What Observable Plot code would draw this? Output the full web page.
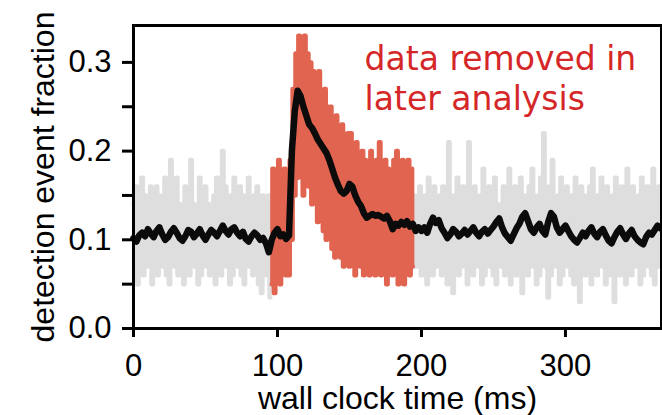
<!DOCTYPE html>
<html><head><meta charset="utf-8">
<script src="https://cdn.jsdelivr.net/npm/d3@7"></script>
<script src="https://cdn.jsdelivr.net/npm/@observablehq/plot@0.6"></script>
<style>body{margin:0;background:#fff}</style>
</head><body><div id="chart"></div>
<script>
const xTicks = [0, 100, 200, 300];
const yTicks = [0, 0.1, 0.2, 0.3];
const yMinorTicks = [0.05, 0.15, 0.25];
const xLabel = "wall clock time (ms)";
const yLabel = "detection event fraction";
const noteText = "data removed in\nlater analysis";
const noteX = 160.5;
const noteY = 0.3247;

// raw detection fraction, one sample per ms
const grayLeftStart = 0;
const grayLeft = [
0.14,0.07,0.16,0.05,0.13,0.08,0.17,0.06,0.15,0.07,
0.14,0.08,0.16,0.05,0.13,0.07,0.16,0.06,0.15,0.08,
0.14,0.07,0.17,0.06,0.13,0.05,0.19,0.08,0.15,0.07,
0.17,0.06,0.14,0.08,0.13,0.05,0.16,0.07,0.15,0.06,
0.19,0.08,0.14,0.07,0.13,0.05,0.17,0.06,0.15,0.08,
0.16,0.07,0.14,0.06,0.13,0.08,0.15,0.05,0.17,0.07,
0.14,0.06,0.20,0.08,0.16,0.07,0.13,0.05,0.15,0.06,
0.17,0.08,0.14,0.07,0.16,0.06,0.15,0.05,0.13,0.08,
0.17,0.07,0.14,0.06,0.15,0.08,0.16,0.05,0.13,0.04,
0.15,0.07,0.14,0.06,0.15,0.035];

const redStart = 96;
const red = [
0.05,0.18,0.04,0.17,0.06,0.19,0.05,0.16,0.07,0.18,
0.06,0.17,0.06,0.19,0.10,0.27,0.15,0.31,0.17,0.33,
0.18,0.32,0.15,0.33,0.17,0.31,0.16,0.30,0.14,0.29,
0.15,0.28,0.12,0.29,0.13,0.26,0.11,0.27,0.10,0.25,
0.11,0.25,0.09,0.23,0.08,0.24,0.09,0.22,0.08,0.23,
0.07,0.21,0.09,0.22,0.07,0.22,0.08,0.20,0.06,0.21,
0.08,0.19,0.07,0.20,0.06,0.19,0.08,0.18,0.06,0.20,
0.07,0.18,0.06,0.19,0.07,0.21,0.06,0.18,0.07,0.19,
0.05,0.18,0.07,0.17,0.06,0.19,0.07,0.20,0.05,0.18,
0.06,0.19,0.05,0.17,0.07,0.19,0.06,0.18,0.07];

const grayRightStart = 195;
const grayRight = [
0.15,0.07,0.14,0.08,0.16,0.06,0.13,0.07,0.15,0.05,
0.17,0.08,0.14,0.06,0.16,0.07,0.13,0.08,0.15,0.06,
0.16,0.07,0.14,0.05,0.21,0.08,0.15,0.04,0.13,0.07,
0.17,0.06,0.14,0.08,0.16,0.07,0.15,0.05,0.21,0.07,
0.14,0.06,0.16,0.08,0.13,0.07,0.15,0.05,0.18,0.06,
0.14,0.08,0.16,0.07,0.15,0.06,0.17,0.05,0.14,0.08,
0.13,0.07,0.16,0.06,0.15,0.08,0.18,0.05,0.14,0.07,
0.16,0.06,0.13,0.08,0.17,0.04,0.15,0.07,0.14,0.06,
0.16,0.08,0.18,0.07,0.15,0.05,0.14,0.06,0.17,0.08,
0.22,0.07,0.15,0.035,0.16,0.06,0.19,0.08,0.14,0.07,
0.15,0.05,0.17,0.06,0.13,0.08,0.16,0.07,0.14,0.06,
0.15,0.05,0.17,0.08,0.14,0.03,0.16,0.07,0.15,0.06,
0.13,0.08,0.16,0.05,0.18,0.07,0.14,0.06,0.15,0.08,
0.17,0.07,0.14,0.05,0.16,0.06,0.13,0.08,0.15,0.03,
0.17,0.07,0.14,0.06,0.16,0.08,0.15,0.05,0.18,0.07,
0.14,0.06,0.16,0.08,0.13,0.07,0.15,0.05,0.17,0.06,
0.14,0.08,0.16,0.07,0.15,0.06,0.18,0.05,0.14,0.07,
0.16,0.08,0.15];

// smoothed trace, one sample per 2 ms
const smoothStart = 0;
const smoothStep = 2;
const smooth = [
0.102,0.098,0.105,0.108,0.104,0.112,0.107,0.103,0.110,0.114,
0.106,0.100,0.103,0.109,0.113,0.108,0.102,0.099,0.104,0.111,
0.109,0.103,0.107,0.112,0.105,0.100,0.106,0.111,0.108,0.104,
0.110,0.116,0.110,0.106,0.112,0.114,0.108,0.104,0.109,0.101,
0.098,0.104,0.108,0.105,0.100,0.102,0.096,0.086,0.100,0.108,
0.112,0.104,0.106,0.101,0.105,0.200,0.245,0.268,0.262,0.250,
0.240,0.230,0.226,0.220,0.213,0.208,0.203,0.198,0.190,0.180,
0.170,0.162,0.155,0.152,0.155,0.163,0.160,0.150,0.143,0.138,
0.130,0.125,0.127,0.129,0.127,0.128,0.126,0.124,0.127,0.121,
0.112,0.118,0.116,0.120,0.117,0.121,0.115,0.118,0.110,0.114,
0.110,0.114,0.108,0.118,0.125,0.119,0.122,0.113,0.108,0.102,
0.106,0.112,0.109,0.104,0.107,0.111,0.106,0.110,0.114,0.108,
0.104,0.109,0.112,0.107,0.111,0.115,0.120,0.124,0.114,0.107,
0.103,0.099,0.106,0.113,0.118,0.126,0.130,0.121,0.112,0.108,
0.114,0.118,0.110,0.106,0.120,0.130,0.126,0.114,0.108,0.112,
0.116,0.110,0.104,0.100,0.097,0.102,0.108,0.104,0.110,0.114,
0.107,0.103,0.109,0.112,0.105,0.099,0.096,0.103,0.109,0.113,
0.106,0.101,0.107,0.111,0.104,0.100,0.097,0.095,0.103,0.108,
0.106,0.111,0.116,0.113];

const toRows = (vals, start, step) => vals.map((v, i) => ({t: start + i * step, v}));
const grayL = toRows(grayLeft, grayLeftStart, 1);
const grayR = toRows(grayRight, grayRightStart, 1);
const redR = toRows(red, redStart, 1);
const smoothR = toRows(smooth, smoothStart, smoothStep);

const chart = Plot.plot({
  width: 662,
  height: 415,
  marginLeft: 133,
  marginRight: 1,
  marginTop: 25,
  marginBottom: 87,
  style: {fontFamily: "Liberation Sans, Arial, sans-serif", fontSize: "31px", background: "#fff", overflow: "visible"},
  x: {domain: [0, 366.7]},
  y: {domain: [0, 0.3416]},
  marks: [
    Plot.line(grayL, {x: "t", y: "v", stroke: "#dedede", strokeWidth: 4.5, curve: "step"}),
    Plot.line(grayR, {x: "t", y: "v", stroke: "#dedede", strokeWidth: 4.5, curve: "step"}),
    Plot.line(redR, {x: "t", y: "v", stroke: "#e0644f", strokeWidth: 4.5, curve: "step"}),
    Plot.line(smoothR, {x: "t", y: "v", stroke: "#0b0b0b", strokeWidth: 6.5, strokeLinejoin: "round"}),
    Plot.frame({stroke: "#000", strokeWidth: 3}),
    Plot.axisY(yTicks, {tickSize: 11, tickPadding: 11, strokeWidth: 3, tickFormat: d3.format(".1f"), label: null}),
    Plot.axisY(yMinorTicks, {tickSize: 11, strokeWidth: 3, tickFormat: () => "", label: null}),
    Plot.axisX(xTicks, {tickSize: 9, tickPadding: 16, strokeWidth: 3, tickFormat: d3.format("d"), label: null}),
    Plot.text([xLabel], {frameAnchor: "bottom", dy: 70, lineAnchor: "middle", textAnchor: "middle", fontSize: 32, fill: "#000"}),
    Plot.text([yLabel], {frameAnchor: "left", dx: -90, rotate: -90, lineAnchor: "middle", textAnchor: "middle", fontSize: 32, fill: "#000"}),
    Plot.text([noteText], {x: () => noteX, y: () => noteY, textAnchor: "start", lineAnchor: "top", lineHeight: 1.24, fontSize: 33, fontFamily: "DejaVu Sans", fill: "#d62728"})
  ]
});
document.getElementById("chart").appendChild(chart);
</script>
</body></html>
